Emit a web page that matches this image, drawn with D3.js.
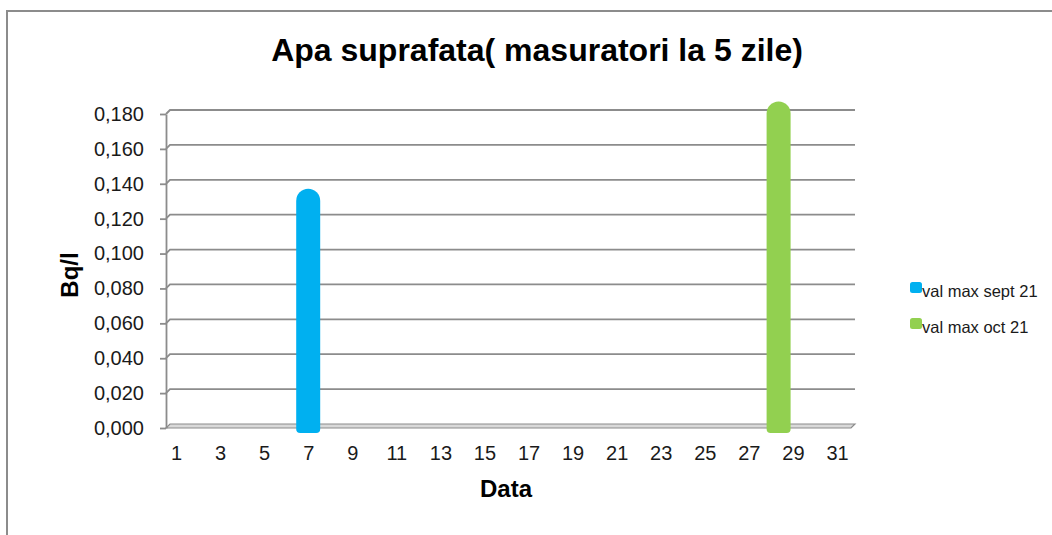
<!DOCTYPE html>
<html>
<head>
<meta charset="utf-8">
<script src="https://cdn.jsdelivr.net/npm/d3@7"></script>
<style>
  html, body { margin: 0; padding: 0; background: #fff; }
  svg { display: block; font-family: "Liberation Sans", Arial, sans-serif; }
</style>
</head>
<body>
<svg id="chart" width="1052" height="535"></svg>
<script>
// ---- data ----
const days = d3.range(1, 32);                 // categories 1..31
const dayLabels = days.filter(d => d % 2 === 1);
const seriesNames = ["val max sept 21", "val max oct 21"];
const seriesDays = [7, 28];
const seriesValues = [0.136, 0.186];
const seriesColors = ["#00b0f0", "#92d050"];
const yTicks = [0, 0.02, 0.04, 0.06, 0.08, 0.10, 0.12, 0.14, 0.16, 0.18];

const svg = d3.select("#chart");
const gray = "#8c8c8c";

// outer frame
svg.append("path")
  .attr("d", "M7,545 L7,11 L1062,11")
  .attr("fill", "none").attr("stroke", gray).attr("stroke-width", 2);

// scales
const y = d3.scaleLinear().domain([0, 0.18]).range([428, 114]);
const x = d3.scalePoint().domain(days).range([176, 837]);
const dx = 4, dy = -4; // 3D depth offset
const xRight = 851;

// floor
svg.append("path")
  .attr("d", `M166,${y(0)} L${xRight},${y(0)} L${xRight + dx},${y(0) + dy} L${166 + dx},${y(0) + dy} Z`)
  .attr("fill", "#d9d9d9").attr("stroke", gray).attr("stroke-width", 1.2);

// gridlines with depth
svg.append("g").selectAll("path").data(yTicks.filter(t => t > 0)).join("path")
  .attr("d", t => `M166,${y(t)} L${166 + dx},${y(t) + dy} L${xRight + dx},${y(t) + dy}`)
  .attr("fill", "none").attr("stroke", gray).attr("stroke-width", 1.8);

// y axis
const fmt = v => d3.format(".3f")(v).replace(".", ",");
const yAxis = svg.append("g").attr("transform", "translate(166,0)")
  .call(d3.axisLeft(y).tickValues(yTicks).tickFormat(fmt).tickSize(6).tickSizeOuter(0).tickPadding(16));
yAxis.select(".domain").attr("stroke", gray).attr("stroke-width", 1.8);
yAxis.selectAll(".tick line").attr("stroke", gray).attr("stroke-width", 1.8);
yAxis.selectAll(".tick text").attr("font-size", 20).attr("fill", "#1a1a1a")
  .attr("font-family", "Liberation Sans, Arial, sans-serif");

// x axis
const xAxis = svg.append("g").attr("transform", `translate(0,${y(0)})`)
  .call(d3.axisBottom(x).tickValues(dayLabels).tickSize(0).tickPadding(18));
xAxis.select(".domain").remove();
xAxis.selectAll(".tick text").attr("font-size", 20).attr("fill", "#1a1a1a")
  .attr("font-family", "Liberation Sans, Arial, sans-serif");

// bars (cylinders with rounded tops)
const barW = 24;
const seriesShift = [0, 7.7];
const bars = seriesNames.map((n, i) => ({ name: n, day: seriesDays[i], value: seriesValues[i], color: seriesColors[i], shift: seriesShift[i] }));
function barPath(d) {
  const cx = x(d.day) + d.shift;
  const x0 = cx - barW / 2, x1 = cx + barW / 2;
  const top = y(d.value) - 2;
  const bot = y(0) + 5;
  const r = barW / 2, rb = 4;
  return `M${x0},${bot - rb} L${x0},${top + r} A${r},${r} 0 0 1 ${x1},${top + r} L${x1},${bot - rb} Q${x1},${bot} ${x1 - rb},${bot} L${x0 + rb},${bot} Q${x0},${bot} ${x0},${bot - rb} Z`;
}
svg.append("g").selectAll("path").data(bars).join("path")
  .attr("d", barPath).attr("fill", d => d.color);

// title
svg.append("text").attr("x", 537).attr("y", 61).attr("text-anchor", "middle")
  .attr("font-size", 32).attr("font-weight", "bold").attr("fill", "#000")
  .text("Apa suprafata( masuratori la 5 zile)");

// axis titles
svg.append("text").attr("transform", "translate(78,275) rotate(-90)").attr("text-anchor", "middle")
  .attr("font-size", 24).attr("font-weight", "bold").attr("fill", "#000").text("Bq/l");
svg.append("text").attr("x", 506).attr("y", 497).attr("text-anchor", "middle")
  .attr("font-size", 24).attr("font-weight", "bold").attr("fill", "#000").text("Data");

// legend
const leg = svg.append("g").selectAll("g").data(bars).join("g")
  .attr("transform", (d, i) => `translate(910,${282 + i * 36})`);
leg.append("rect").attr("width", 12).attr("height", 11).attr("rx", 2.5).attr("fill", d => d.color);
leg.append("text").attr("x", 12).attr("y", 15).attr("font-size", 16.5).attr("fill", "#1a1a1a")
  .text(d => d.name);
</script>
</body>
</html>
